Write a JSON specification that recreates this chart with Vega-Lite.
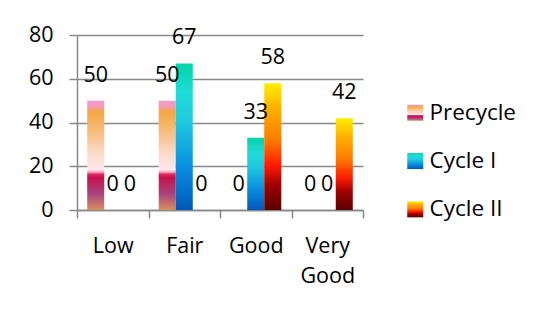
{
  "$schema": "https://vega.github.io/schema/vega-lite/v6.json",
  "width": 286,
  "height": 175,
  "autosize": {"type": "none"},
  "padding": {"left": 77, "top": 35, "right": 173, "bottom": 99},
  "background": "white",
  "config": {
    "view": {"stroke": null},
    "font": "Open Sans",
    "text": {"font": "Open Sans"},
    "legend": {"title": null, "symbolSize": 256, "symbolStrokeWidth": 0, "symbolOpacity": 1, "labelFontSize": 22.5, "labelColor": "black", "labelOffset": 3, "orient": "none"}
  },
  "resolve": {"scale": {"shape": "independent"}, "legend": {"shape": "independent"}},
  "data": {
    "values": [
      {"level": "Low", "series": "Precycle", "value": 50},
      {"level": "Low", "series": "Cycle I", "value": 0},
      {"level": "Low", "series": "Cycle II", "value": 0},
      {"level": "Fair", "series": "Precycle", "value": 50},
      {"level": "Fair", "series": "Cycle I", "value": 67},
      {"level": "Fair", "series": "Cycle II", "value": 0},
      {"level": "Good", "series": "Precycle", "value": 0},
      {"level": "Good", "series": "Cycle I", "value": 33},
      {"level": "Good", "series": "Cycle II", "value": 58},
      {"level": "Very Good", "series": "Precycle", "value": 0},
      {"level": "Very Good", "series": "Cycle I", "value": 0},
      {"level": "Very Good", "series": "Cycle II", "value": 42}
    ]
  },
  "encoding": {
    "x": {
      "field": "level",
      "type": "nominal",
      "sort": ["Low", "Fair", "Good", "Very Good"],
      "scale": {"domain": ["Low", "Fair", "Good", "Very Good"], "paddingInner": 0, "paddingOuter": 0},
      "axis": {
        "title": null,
        "labelAngle": 0,
        "tickBand": "extent",
        "domainColor": "#888888",
        "domainWidth": 1.5,
        "tickColor": "#888888",
        "tickWidth": 1.5,
        "tickSize": 8,
        "labelFontSize": 21.5,
        "labelColor": "black",
        "labelPadding": 17,
        "labelLineHeight": 30,
        "labelExpr": "datum.label == 'Very Good' ? ['Very', 'Good'] : datum.label"
      }
    },
    "xOffset": {
      "field": "series",
      "type": "nominal",
      "sort": ["Precycle", "Cycle I", "Cycle II"],
      "scale": {"domain": ["Precycle", "Cycle I", "Cycle II"], "paddingInner": 0, "paddingOuter": 0.6}
    },
    "y": {
      "field": "value",
      "type": "quantitative",
      "scale": {"domain": [0, 80], "nice": false},
      "axis": {
        "title": null,
        "values": [0, 20, 40, 60, 80],
        "domainColor": "#888888",
        "domainWidth": 1.5,
        "gridColor": "#888888",
        "gridWidth": 1.5,
        "tickColor": "#888888",
        "tickWidth": 1.5,
        "tickSize": 8,
        "labelFontSize": 21.5,
        "labelColor": "black",
        "labelPadding": 16
      }
    }
  },
  "layer": [
    {
      "transform": [{"filter": "datum.series === 'Precycle'"}],
      "mark": {"type": "point", "opacity": 0, "filled": true, "color": {"gradient": "linear", "x1": 0, "y1": 1, "x2": 0, "y2": 0, "stops": [
        {"offset": 0, "color": "#d98f5e"},
        {"offset": 0.15, "color": "#a8427e"},
        {"offset": 0.3, "color": "#c8104c"},
        {"offset": 0.33, "color": "#e0306a"},
        {"offset": 0.345, "color": "#f8a0b8"},
        {"offset": 0.37, "color": "#fde8ec"},
        {"offset": 0.55, "color": "#fbd6c0"},
        {"offset": 0.75, "color": "#f7b870"},
        {"offset": 0.9, "color": "#f5a843"},
        {"offset": 0.95, "color": "#f49ac0"},
        {"offset": 1, "color": "#f59ac8"}
      ]}},
      "encoding": {
        "shape": {
          "field": "series",
          "type": "nominal",
          "scale": {"range": ["square"]},
          "legend": {"legendX": 327, "legendY": 66.5}
        }
      }
    },
    {
      "transform": [{"filter": "datum.series === 'Cycle I'"}],
      "mark": {"type": "point", "opacity": 0, "filled": true, "color": {"gradient": "linear", "x1": 0, "y1": 1, "x2": 0, "y2": 0, "stops": [
        {"offset": 0, "color": "#0058b8"},
        {"offset": 0.3, "color": "#0a90e0"},
        {"offset": 0.6, "color": "#20c8e0"},
        {"offset": 0.8, "color": "#20dcd8"},
        {"offset": 1, "color": "#00d4a8"}
      ]}},
      "encoding": {
        "shape": {
          "field": "series",
          "type": "nominal",
          "scale": {"range": ["square"]},
          "legend": {"legendX": 327, "legendY": 114.8}
        }
      }
    },
    {
      "transform": [{"filter": "datum.series === 'Cycle II'"}],
      "mark": {"type": "point", "opacity": 0, "filled": true, "color": {"gradient": "linear", "x1": 0, "y1": 1, "x2": 0, "y2": 0, "stops": [
        {"offset": 0, "color": "#5a0000"},
        {"offset": 0.2, "color": "#a00000"},
        {"offset": 0.35, "color": "#ff1a00"},
        {"offset": 0.55, "color": "#ff7a00"},
        {"offset": 0.8, "color": "#ffb000"},
        {"offset": 1, "color": "#fff000"}
      ]}},
      "encoding": {
        "shape": {
          "field": "series",
          "type": "nominal",
          "scale": {"range": ["square"]},
          "legend": {"legendX": 327, "legendY": 163.1}
        }
      }
    },
    {
      "transform": [{"filter": "datum.series === 'Precycle'"}],
      "mark": {"type": "bar", "color": {"gradient": "linear", "x1": 0, "y1": 1, "x2": 0, "y2": 0, "stops": [
        {"offset": 0, "color": "#d98f5e"},
        {"offset": 0.15, "color": "#a8427e"},
        {"offset": 0.3, "color": "#c8104c"},
        {"offset": 0.33, "color": "#e0306a"},
        {"offset": 0.345, "color": "#f8a0b8"},
        {"offset": 0.37, "color": "#fde8ec"},
        {"offset": 0.55, "color": "#fbd6c0"},
        {"offset": 0.75, "color": "#f7b870"},
        {"offset": 0.9, "color": "#f5a843"},
        {"offset": 0.95, "color": "#f49ac0"},
        {"offset": 1, "color": "#f59ac8"}
      ]}}
    },
    {
      "transform": [{"filter": "datum.series === 'Cycle I'"}],
      "mark": {"type": "bar", "color": {"gradient": "linear", "x1": 0, "y1": 1, "x2": 0, "y2": 0, "stops": [
        {"offset": 0, "color": "#0058b8"},
        {"offset": 0.3, "color": "#0a90e0"},
        {"offset": 0.6, "color": "#20c8e0"},
        {"offset": 0.8, "color": "#20dcd8"},
        {"offset": 1, "color": "#00d4a8"}
      ]}}
    },
    {
      "transform": [{"filter": "datum.series === 'Cycle II'"}],
      "mark": {"type": "bar", "color": {"gradient": "linear", "x1": 0, "y1": 1, "x2": 0, "y2": 0, "stops": [
        {"offset": 0, "color": "#5a0000"},
        {"offset": 0.2, "color": "#a00000"},
        {"offset": 0.35, "color": "#ff1a00"},
        {"offset": 0.55, "color": "#ff7a00"},
        {"offset": 0.8, "color": "#ffb000"},
        {"offset": 1, "color": "#fff000"}
      ]}}
    },
    {
      "mark": {"type": "text", "dy": -25, "fontSize": 21.5, "baseline": "middle", "color": "black"},
      "encoding": {
        "text": {"field": "value", "type": "quantitative"}
      }
    }
  ]
}
